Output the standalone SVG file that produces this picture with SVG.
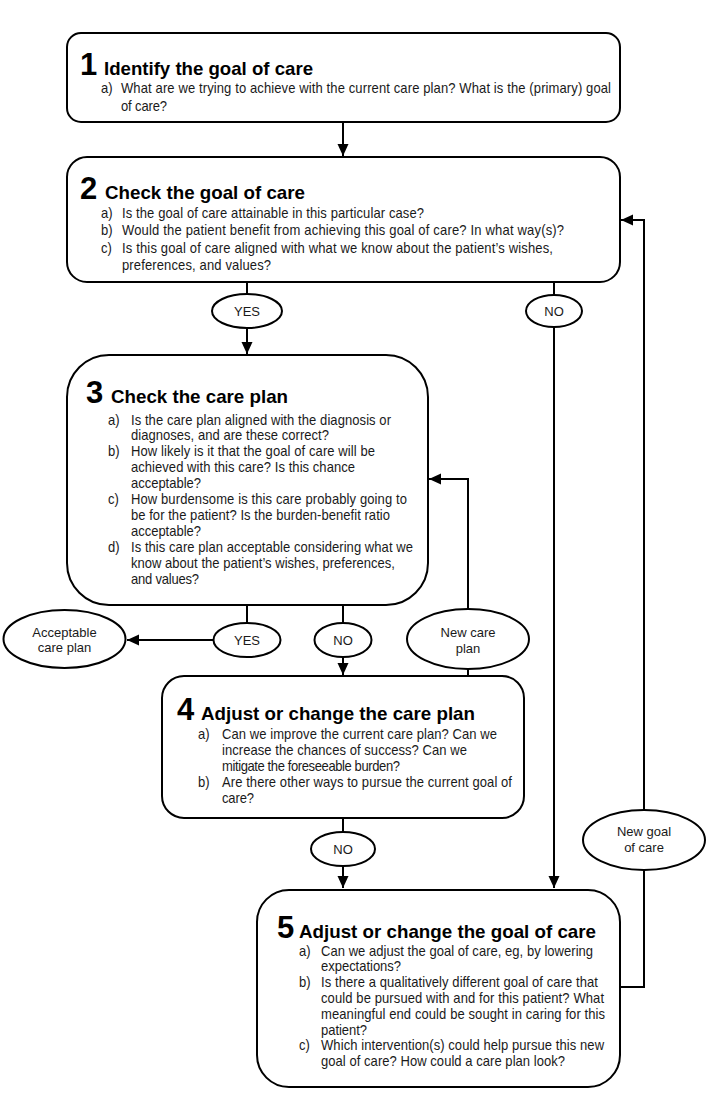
<svg xmlns="http://www.w3.org/2000/svg" width="710" height="1113" viewBox="0 0 710 1113">
<style>
.box{fill:#fff;stroke:#000;stroke-width:2}
.ell{fill:#fff;stroke:#000;stroke-width:2}
.ln{fill:none;stroke:#000;stroke-width:2}
.num{font-family:"Liberation Sans",Arial,sans-serif;font-weight:bold;font-size:31px;fill:#000}
.ttl{font-family:"Liberation Sans",Arial,sans-serif;font-weight:bold;font-size:19px;fill:#000}
.bd{font-family:"Liberation Sans",Arial,sans-serif;font-size:14px;fill:#1a1a1a}
.lb{font-family:"Liberation Sans",Arial,sans-serif;font-size:13px;fill:#1a1a1a;text-anchor:middle}
</style>
<defs>
<marker id="arr" markerUnits="userSpaceOnUse" markerWidth="14" markerHeight="12" refX="12" refY="6" orient="auto">
<path d="M0,0.5 L12,6 L0,11.5 Z" fill="#000"/>
</marker>
</defs>

<g id="connectors">
<line class="ln" x1="343" y1="122" x2="343" y2="156" marker-end="url(#arr)"/>
<line class="ln" x1="247" y1="282" x2="247" y2="294"/>
<line class="ln" x1="247" y1="328" x2="247" y2="354" marker-end="url(#arr)"/>
<line class="ln" x1="554" y1="282" x2="554" y2="295"/>
<line class="ln" x1="554" y1="327" x2="554" y2="888" marker-end="url(#arr)"/>
<line class="ln" x1="247" y1="605" x2="247" y2="623"/>
<line class="ln" x1="214" y1="640" x2="127" y2="640" marker-end="url(#arr)"/>
<line class="ln" x1="343" y1="605" x2="343" y2="623"/>
<line class="ln" x1="343" y1="657" x2="343" y2="675" marker-end="url(#arr)"/>
<line class="ln" x1="468" y1="676" x2="468" y2="669"/>
<polyline class="ln" points="468,609 468,479 429,479" marker-end="url(#arr)"/>
<line class="ln" x1="343" y1="818" x2="343" y2="832"/>
<line class="ln" x1="343" y1="866" x2="343" y2="888" marker-end="url(#arr)"/>
<polyline class="ln" points="620,987 644,987 644,870"/>
<polyline class="ln" points="644,810 644,220 621,220" marker-end="url(#arr)"/>
</g>

<g id="node1">
<rect class="box" x="67" y="33" width="553" height="89" rx="14"/>
<text class="num" x="80" y="75">1</text>
<text class="ttl" x="104" y="75" textLength="209" lengthAdjust="spacingAndGlyphs">Identify the goal of care</text>
<g transform="translate(101,0) scale(0.93,1)">
<text class="bd" x="0" y="93">a)</text>
<text class="bd" x="21.5" y="93" textLength="526.9" lengthAdjust="spacing">What are we trying to achieve with the current care plan? What is the (primary) goal</text>
<text class="bd" x="21.5" y="111" textLength="49.5" lengthAdjust="spacing">of care?</text>
</g>
</g>

<g id="node2">
<rect class="box" x="67" y="157" width="553" height="125" rx="20"/>
<text class="num" x="80" y="199">2</text>
<text class="ttl" x="105" y="199" textLength="200" lengthAdjust="spacingAndGlyphs">Check the goal of care</text>
<g transform="translate(101,0) scale(0.93,1)">
<text class="bd" x="0" y="218">a)</text>
<text class="bd" x="22.6" y="218" textLength="324.7" lengthAdjust="spacing">Is the goal of care attainable in this particular case?</text>
<text class="bd" x="0" y="235.5">b)</text>
<text class="bd" x="22.6" y="235.5" textLength="475.3" lengthAdjust="spacing">Would the patient benefit from achieving this goal of care? In what way(s)?</text>
<text class="bd" x="0" y="253">c)</text>
<text class="bd" x="22.6" y="253" textLength="463.4" lengthAdjust="spacing">Is this goal of care aligned with what we know about the patient’s wishes,</text>
<text class="bd" x="22.6" y="270.5" textLength="160.2" lengthAdjust="spacing">preferences, and values?</text>
</g>
</g>

<g id="yes1">
<ellipse class="ell" cx="247" cy="311" rx="35" ry="17"/>
<text class="lb" x="247" y="316">YES</text>
</g>
<g id="no1">
<ellipse class="ell" cx="554" cy="311" rx="28" ry="16"/>
<text class="lb" x="554" y="316">NO</text>
</g>

<g id="node3">
<rect class="box" x="67" y="355" width="361" height="250" rx="42"/>
<text class="num" x="86" y="403">3</text>
<text class="ttl" x="111" y="403" textLength="177" lengthAdjust="spacingAndGlyphs">Check the care plan</text>
<g transform="translate(108,0) scale(0.93,1)">
<text class="bd" x="0" y="425">a)</text>
<text class="bd" x="24.7" y="425" textLength="279.6" lengthAdjust="spacing">Is the care plan aligned with the diagnosis or</text>
<text class="bd" x="24.7" y="440.5" textLength="212.9" lengthAdjust="spacing">diagnoses, and are these correct?</text>
<text class="bd" x="0" y="456">b)</text>
<text class="bd" x="24.7" y="456" textLength="262.4" lengthAdjust="spacing">How likely is it that the goal of care will be</text>
<text class="bd" x="24.7" y="472" textLength="240.9" lengthAdjust="spacing">achieved  with this care? Is this chance</text>
<text class="bd" x="24.7" y="488" textLength="75.3" lengthAdjust="spacing">acceptable?</text>
<text class="bd" x="0" y="504">c)</text>
<text class="bd" x="24.7" y="504" textLength="296.8" lengthAdjust="spacing">How burdensome  is this care probably going to</text>
<text class="bd" x="24.7" y="520" textLength="278.5" lengthAdjust="spacing">be for the patient? Is the burden-benefit  ratio</text>
<text class="bd" x="24.7" y="536" textLength="75.3" lengthAdjust="spacing">acceptable?</text>
<text class="bd" x="0" y="552">d)</text>
<text class="bd" x="24.7" y="552" textLength="303.2" lengthAdjust="spacing">Is this care plan acceptable considering what we</text>
<text class="bd" x="24.7" y="568" textLength="283.9" lengthAdjust="spacing">know about the patient’s wishes, preferences,</text>
<text class="bd" x="24.7" y="584" textLength="73.1" lengthAdjust="spacing">and values?</text>
</g>
</g>

<g id="acceptable">
<ellipse class="ell" cx="64.5" cy="639" rx="61" ry="29"/>
<text class="lb" x="64.5" y="637">Acceptable</text>
<text class="lb" x="64.5" y="652">care plan</text>
</g>
<g id="yes2">
<ellipse class="ell" cx="247" cy="640" rx="33.5" ry="17"/>
<text class="lb" x="247" y="645">YES</text>
</g>
<g id="no2">
<ellipse class="ell" cx="343" cy="640" rx="28.5" ry="17"/>
<text class="lb" x="343" y="645">NO</text>
</g>
<g id="newcareplan">
<ellipse class="ell" cx="468" cy="639" rx="61" ry="30"/>
<text class="lb" x="468" y="637">New care</text>
<text class="lb" x="468" y="653">plan</text>
</g>

<g id="node4">
<rect class="box" x="162" y="676" width="362" height="142" rx="22"/>
<text class="num" x="177" y="720">4</text>
<text class="ttl" x="201" y="720" textLength="274" lengthAdjust="spacingAndGlyphs">Adjust or change the care plan</text>
<g transform="translate(198,0) scale(0.93,1)">
<text class="bd" x="0" y="739">a)</text>
<text class="bd" x="25.8" y="739" textLength="295.7" lengthAdjust="spacing">Can we improve  the current care plan? Can we</text>
<text class="bd" x="25.8" y="755" textLength="263.4" lengthAdjust="spacing">increase the chances of success? Can we</text>
<text class="bd" x="25.8" y="771" textLength="191.4" lengthAdjust="spacing">mitigate the foreseeable  burden?</text>
<text class="bd" x="0" y="787">b)</text>
<text class="bd" x="25.8" y="787" textLength="311.8" lengthAdjust="spacing">Are there other ways to pursue the current goal of</text>
<text class="bd" x="25.8" y="803" textLength="34.4" lengthAdjust="spacing">care?</text>
</g>
</g>

<g id="no3">
<ellipse class="ell" cx="343" cy="849" rx="32" ry="17"/>
<text class="lb" x="343" y="854">NO</text>
</g>
<g id="newgoal">
<ellipse class="ell" cx="644" cy="840" rx="61" ry="30"/>
<text class="lb" x="644" y="836">New goal</text>
<text class="lb" x="644" y="852">of care</text>
</g>

<g id="node5">
<rect class="box" x="257" y="890" width="363" height="197" rx="32"/>
<text class="num" x="277" y="938">5</text>
<text class="ttl" x="299" y="938" textLength="297" lengthAdjust="spacingAndGlyphs">Adjust or change the goal of care</text>
<g transform="translate(299,0) scale(0.93,1)">
<text class="bd" x="0" y="956">a)</text>
<text class="bd" x="23.7" y="956" textLength="292.5" lengthAdjust="spacing">Can we adjust the goal of care, eg, by lowering</text>
<text class="bd" x="23.7" y="971.5" textLength="86" lengthAdjust="spacing">expectations?</text>
<text class="bd" x="0" y="987.5">b)</text>
<text class="bd" x="23.7" y="987.5" textLength="297.8" lengthAdjust="spacing">Is there a qualitatively different  goal of care that</text>
<text class="bd" x="23.7" y="1003.5" textLength="304.3" lengthAdjust="spacing">could be pursued with and for this patient? What</text>
<text class="bd" x="23.7" y="1019.5" textLength="305.4" lengthAdjust="spacing">meaningful  end could be sought in caring for this</text>
<text class="bd" x="23.7" y="1035" textLength="49.5" lengthAdjust="spacing">patient?</text>
<text class="bd" x="0" y="1050.5">c)</text>
<text class="bd" x="23.7" y="1050.5" textLength="304.3" lengthAdjust="spacing">Which intervention(s)  could help pursue this new</text>
<text class="bd" x="23.7" y="1066.5" textLength="262.4" lengthAdjust="spacing">goal of care? How could a care plan look?</text>
</g>
</g>
</svg>
